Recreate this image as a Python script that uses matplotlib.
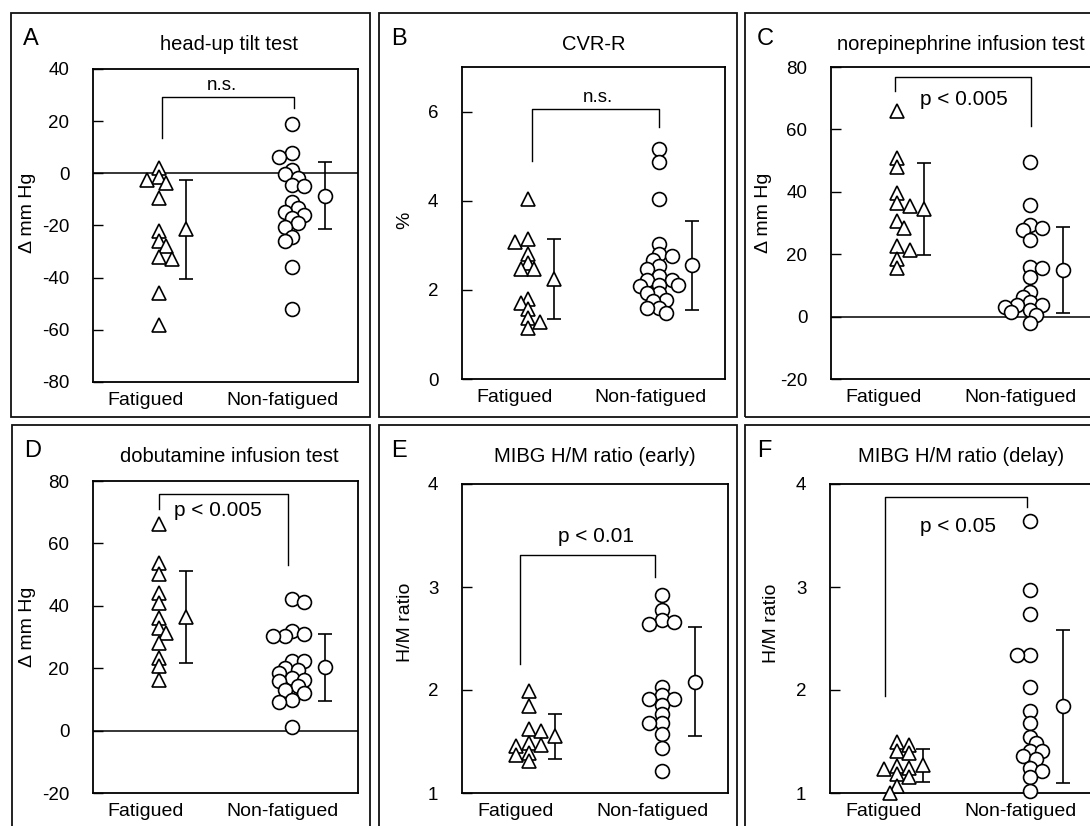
import matplotlib
matplotlib.use("Agg")
import matplotlib.pyplot as plt
from matplotlib.patches import Rectangle
import numpy as np

plt.rcParams['font.family'] = ['Liberation Sans', 'DejaVu Sans']

W, H = 1090, 826

groups = ["Fatigued", "Non-fatigued"]

# A: head-up tilt test (delta mm Hg)
tilt_fat = [2, -1.3, -3.6, -2.6, -9.6, -22, -26, -28, -32, -33, -46, -58]
tilt_non = [18.8, 7.9, 6.4, 1.3, -0.4, -1.9, -4.5, -4.7, -10.9, -13.4, -15, -16,
            -17.2, -18.9, -20.4, -24.3, -26, -35.8, -52]
tilt_mean = [-21.5, -8.5]
tilt_sd = [19.0, 13.0]

# B: CVR-R (%)
cvr_fat = [4.04, 3.14, 3.08, 2.8, 2.6, 2.46, 2.46, 1.8, 1.7, 1.56, 1.37, 1.29, 1.14]
cvr_non = [5.17, 4.86, 4.04, 3.02, 2.8, 2.76, 2.68, 2.53, 2.46, 2.31, 2.23, 2.23,
           2.12, 2.12, 2.08, 1.93, 1.93, 1.78, 1.74, 1.59, 1.59, 1.48]
cvr_mean = [2.24, 2.55]
cvr_sd = [0.9, 1.0]

# C: norepinephrine infusion test
ne_fat = [65.8, 50.8, 48.1, 39.6, 36.4, 35.3, 30.5, 28.3, 22.5, 21.4, 18.4, 15.5]
ne_non = [49.7, 35.8, 29.4, 28.3, 27.8, 24.6, 16, 15.5, 12.8, 8.0, 6.4, 4.8, 3.7,
          3.7, 3.2, 2.1, 1.6, 0.5, -2.1]
ne_mean = [34.5, 15.0]
ne_sd = [14.7, 13.8]

# D: dobutamine infusion test
dob_fat = [66.1, 53.8, 50.1, 44.2, 40.9, 36.1, 32.9, 31.3, 28.1, 23.3, 20.6, 16.3]
dob_non = [42.3, 41.2, 31.8, 31.1, 30.2, 30.2, 22.2, 22.2, 20.0, 19.5, 18.4, 16.8,
           16.3, 15.8, 14.4, 13.1, 12.0, 9.9, 9.3, 1.0]
dob_mean = [36.5, 20.3]
dob_sd = [14.8, 10.7]

# E: MIBG H/M ratio (early)
early_fat = [1.99, 1.84, 1.62, 1.60, 1.49, 1.47, 1.46, 1.39, 1.37, 1.31]
early_non = [2.92, 2.78, 2.68, 2.66, 2.64, 2.03, 1.95, 1.91, 1.91, 1.85, 1.77,
             1.68, 1.68, 1.57, 1.44, 1.21]
early_mean = [1.55, 2.08]
early_sd = [0.22, 0.53]

# F: MIBG H/M ratio (delay)
delay_fat = [1.50, 1.47, 1.41, 1.39, 1.26, 1.24, 1.23, 1.18, 1.16, 1.07, 1.0]
delay_non = [3.64, 2.97, 2.74, 2.34, 2.34, 2.03, 1.80, 1.68, 1.54, 1.49, 1.41,
             1.41, 1.36, 1.33, 1.24, 1.21, 1.16, 1.02]
delay_mean = [1.27, 1.84]
delay_sd = [0.16, 0.74]

panel_letters = ["A", "B", "C", "D", "E", "F"]
titles = ["head-up tilt test", "CVR-R", "norepinephrine infusion test",
          "dobutamine infusion test", "MIBG H/M ratio (early)", "MIBG H/M ratio (delay)"]
ylabels = ["\u0394 mm Hg", "%", "\u0394 mm Hg", "\u0394 mm Hg", "H/M ratio", "H/M ratio"]
ylims = [(-80, 40), (0, 7), (-20, 80), (-20, 80), (1, 4), (1, 4)]
yticks = [[-80, -60, -40, -20, 0, 20, 40], [0, 2, 4, 6], [-20, 0, 20, 40, 60, 80],
          [-20, 0, 20, 40, 60, 80], [1, 2, 3, 4], [1, 2, 3, 4]]
zero_line = [True, False, True, True, False, False]
sig_text = ["n.s.", "n.s.", "p < 0.005", "p < 0.005", "p < 0.01", "p < 0.05"]

fat_vals = [tilt_fat, cvr_fat, ne_fat, dob_fat, early_fat, delay_fat]
non_vals = [tilt_non, cvr_non, ne_non, dob_non, early_non, delay_non]
means = [tilt_mean, cvr_mean, ne_mean, dob_mean, early_mean, delay_mean]
sds = [tilt_sd, cvr_sd, ne_sd, dob_sd, early_sd, delay_sd]

# layout in pixels
frames = [(11, 13, 370, 417), (379, 13, 737, 417), (745, 13, 1104, 417),
          (12, 425, 370, 830), (379, 425, 737, 830), (745, 425, 1104, 830)]
axboxes = [(93, 69, 358, 382), (462, 67, 725, 379), (831, 67, 1096, 379),
           (93, 481, 358, 793), (462, 484, 728, 793), (830, 484, 1096, 793)]
# bracket: x left, x right, top, left foot, right foot ; text x, y, ha
brackets = [(1.02, 2.02, 29.4, 13.4, 25.2, 1.47, 33.5, 'center'),
            (1.03, 2.0, 6.05, 4.89, 5.65, 1.53, 6.32, 'center'),
            (0.98, 2.01, 76.8, 72.2, 61.2, 1.17, 69.7, 'left'),
            (1.0, 1.97, 75.8, 71.0, 53.0, 1.11, 70.4, 'left'),
            (0.935, 1.95, 3.31, 2.25, 3.10, 1.51, 3.49, 'center'),
            (0.91, 1.98, 3.87, 1.94, 3.78, 1.46, 3.59, 'center')]
ylabel_pos = [(28, 213), (405, 220), (764, 213), (28, 627), (405, 622), (772, 623)]


def swarm(values, ylim, height_px, diam):
    """horizontal pixel offsets so the markers only partly overlap"""
    vals = np.asarray(values, dtype=float)
    ys = (vals - ylim[0]) / (ylim[1] - ylim[0]) * height_px
    offs = np.zeros(len(vals))
    placed = []
    step = 0.45 * diam
    mind = 0.55 * diam
    for n, i in enumerate(np.argsort(-vals)):
        for k in range(30):
            cands = [0.0] if k == 0 else ([k * step, -k * step] if n % 2 else [-k * step, k * step])
            ok = None
            for c in cands:
                if all((c - px) ** 2 + (ys[i] - py) ** 2 >= mind ** 2 for px, py in placed):
                    ok = c
                    break
            if ok is not None:
                offs[i] = ok
                placed.append((ok, ys[i]))
                break
    return offs


fig = plt.figure(figsize=(W / 100, H / 100), dpi=100)

for p in range(6):
    fx0, fy0, fx1, fy1 = frames[p]
    fig.add_artist(Rectangle((fx0 / W, 1 - fy1 / H), (fx1 - fx0) / W, (fy1 - fy0) / H,
                             transform=fig.transFigure, fill=False, ec='#111111', lw=1.3))

    l, t, r, b = axboxes[p]
    ax = fig.add_axes([l / W, 1 - b / H, (r - l) / W, (b - t) / H])
    ax.set_xlim(0.5, 2.5)
    ax.set_ylim(*ylims[p])
    px_per_unit = (r - l) / 2.0
    diam = 13.9

    for g, (vals, mk) in enumerate([(fat_vals[p], '^'), (non_vals[p], 'o')]):
        offs = swarm(vals, ylims[p], b - t, diam)
        ax.plot(g + 1 + offs / px_per_unit, vals, ls='none', marker=mk, ms=10,
                mfc='white', mec='black', mew=1.2, zorder=3, clip_on=False)
        mx = g + 1 + (0.2 if g == 0 else 0.25)
        ax.errorbar([mx], [means[p][g]], yerr=[sds[p][g]], fmt=mk, ms=10,
                    mfc='white', mec='black', mew=1.2, ecolor='black', elinewidth=1.2,
                    capsize=5, capthick=3, zorder=3)

    if zero_line[p]:
        ax.axhline(0, color='black', lw=1.1, zorder=1)

    x1, x2, top, lf, rf, tx, ty, ha = brackets[p]
    ax.plot([x1, x1, x2, x2], [lf, top, top, rf], color='black', lw=1.0)
    ax.text(tx, ty, sig_text[p], ha=ha, va='center',
            fontsize=13.5 if sig_text[p] == "n.s." else 15)

    ax.set_yticks(yticks[p])
    ax.set_yticklabels([str(v) for v in yticks[p]], fontsize=13.5)
    ax.tick_params(axis='y', direction='in', length=7, width=1, pad=17)
    ax.set_xticks([0.9, 1.93])
    ax.set_xticklabels(groups, fontsize=14)
    ax.tick_params(axis='x', length=0, pad=7)
    for s in ax.spines.values():
        s.set_linewidth(1.3)

    lx, ly = ylabel_pos[p]
    fig.text(lx / W, 1 - ly / H, ylabels[p], rotation=90, ha='center', va='center', fontsize=14)
    fig.text((fx0 + 12) / W, 1 - (fy0 + 26) / H, panel_letters[p], ha='left', va='center',
             fontsize=17)
    fig.text(((l + r) / 2 + (4 if p in (0, 3) else 0)) / W if p not in (2, 5) else (961 / W),
             1 - (fy0 + 31) / H, titles[p], ha='center', va='center', fontsize=14.5)

fig.savefig("out.png", dpi=100, facecolor='white')
